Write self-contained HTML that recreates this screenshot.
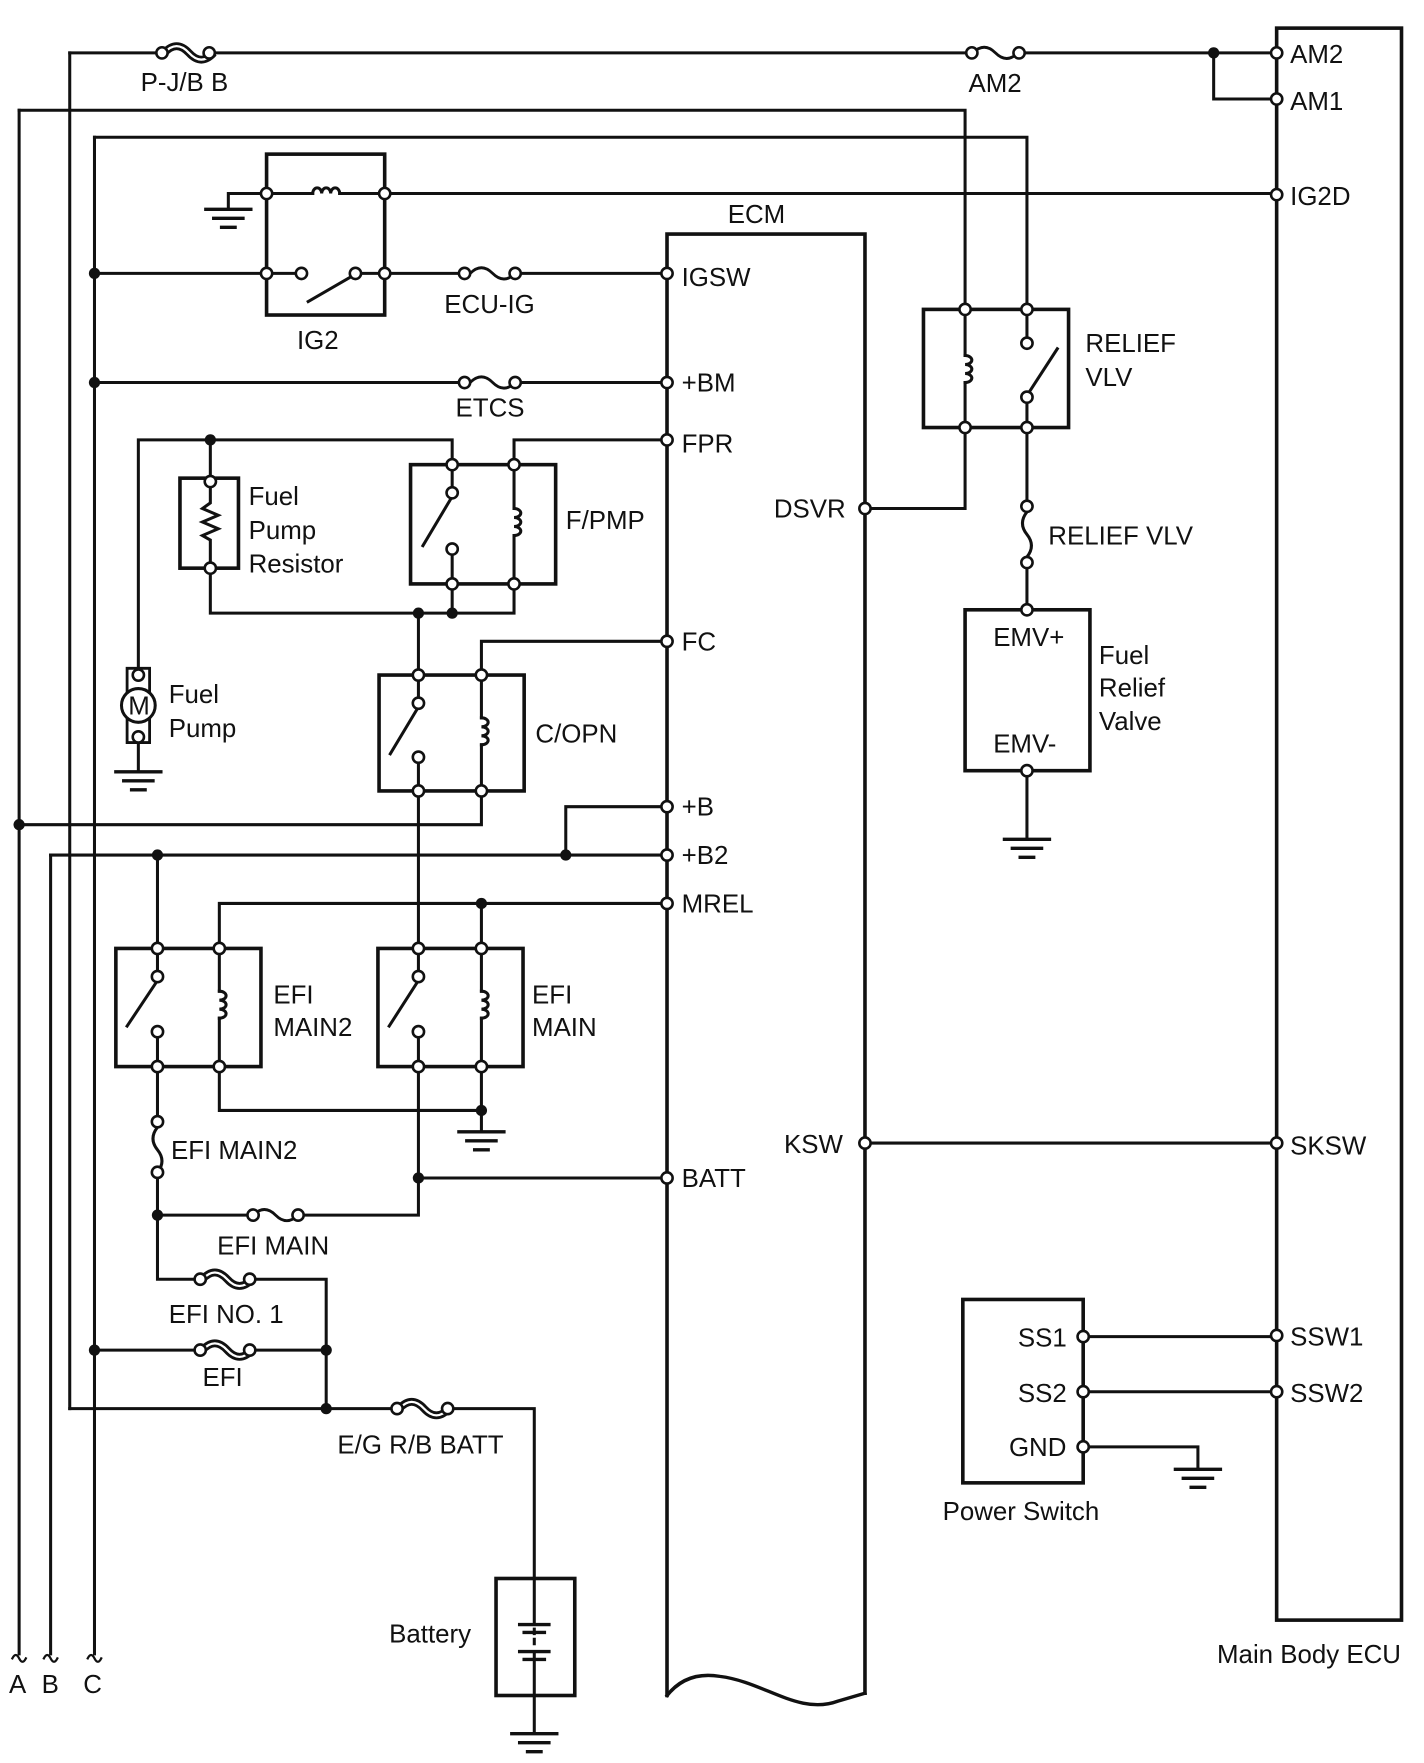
<!DOCTYPE html>
<html><head><meta charset="utf-8"><style>
html,body{margin:0;padding:0;background:#fff;}
svg{display:block;}
text{font-family:"Liberation Sans",Arial,sans-serif;font-size:23px;fill:#111;}
</style></head><body>
<svg width="1424" height="1763" viewBox="0 0 1266 1567" preserveAspectRatio="none" xmlns="http://www.w3.org/2000/svg">
<g fill="none" stroke="#111" stroke-width="2.7" stroke-linecap="square">
<!-- left trunk wires -->
<path d="M17 98 V1470 M45 760 V1470 M84 122 V1470 M62 47 V1252"/>
<path d="M11 1474 q3 -6 6 0 q3 6 6 0 M39 1474 q3 -6 6 0 q3 6 6 0 M78 1474 q3 -6 6 0 q3 6 6 0" stroke-width="2"/>
<!-- top wires -->
<path d="M62 47 H140 M190 47 H860 M910 47 H1129"/>
<path d="M1079 47 V88 H1129"/>
<path d="M17 98 H858 V270"/>
<path d="M84 122 H913 V270"/>
<!-- Main body ECU -->
<rect x="1135" y="25" width="111" height="1415" stroke-width="3.2"/>
<!-- IG2 relay -->
<rect x="237" y="137" width="105" height="143" stroke-width="3.2"/>
<path d="M237 172 H203 V185 M243 172 H278 M302 172 H336 M348 172 H1129"/>
<path d="M278 172 a4 5 0 0 1 8 0 a4 5 0 0 1 8 0 a4 5 0 0 1 8 0"/>
<path d="M84 243 H231 M243 243 H262 M322 243 H336 M348 243 H408 M458 243 H587"/>
<path d="M274 268 L312 246"/>
<path d="M84 340 H408 M458 340 H587"/>
<!-- ECM -->
<path d="M593 1507 V208 H769 V1505" stroke-width="3.2"/>
<path d="M593 1507 Q610 1485 640 1490 C680 1495 710 1525 745 1512 L769 1505" stroke-width="3"/>
<!-- FPR -->
<path d="M123 592 V391 H402 V407 M457 407 V391 H587"/>
<path d="M187 391 V422"/>
<rect x="160" y="425" width="52" height="80" stroke-width="3.2"/>
<path d="M187 434 V447 l-7 5 l14 6 l-14 6 l14 6 l-14 6 l7 4 V499"/>
<rect x="365" y="413" width="129" height="106" stroke-width="3.2"/>
<path d="M402 419 V432 M402 494 V513 M457 419 V452 M457 478 V513"/>
<path d="M376 485 L401 443"/>
<path d="M457 452 a6 4 0 0 1 0 8 a6 4 0 0 1 0 8 a6 4 0 0 1 0 8" />
<path d="M187 511 V545 H457 V525 M402 525 V545"/>
<!-- C/OPN -->
<path d="M372 545 V594"/>
<path d="M587 570 H428 V594"/>
<rect x="337" y="600" width="129" height="103" stroke-width="3.2"/>
<path d="M372 606 V619 M372 679 V697 M428 606 V638 M428 662 V697"/>
<path d="M347 670 L371 630"/>
<path d="M428 638 a6 4 0 0 1 0 8 a6 4 0 0 1 0 8 a6 4 0 0 1 0 8"/>
<path d="M428 709 V733 H17"/>
<path d="M372 709 V837"/>
<!-- fuel pump -->
<path d="M113 594 H133 V660 H113 Z" stroke-width="2.5"/>
<path d="M123 662 V685"/>
<!-- +B, +B2, MREL -->
<path d="M587 717 H503 V760 M587 760 H45 M140 760 V837"/>
<path d="M587 803 H195 V837 M428 803 V837"/>
<!-- EFI MAIN2 -->
<rect x="103" y="843" width="129" height="105" stroke-width="3.2"/>
<path d="M140 849 V862 M140 923 V942 M195 849 V881 M195 905 V942"/>
<path d="M113 912 L139 873"/>
<path d="M195 881 a6 4 0 0 1 0 8 a6 4 0 0 1 0 8 a6 4 0 0 1 0 8"/>
<!-- EFI MAIN -->
<rect x="336" y="843" width="129" height="105" stroke-width="3.2"/>
<path d="M372 849 V862 M372 923 V942 M428 849 V881 M428 905 V942"/>
<path d="M346 912 L371 873"/>
<path d="M428 881 a6 4 0 0 1 0 8 a6 4 0 0 1 0 8 a6 4 0 0 1 0 8"/>
<path d="M195 954 V987 H428 M428 954 V1005"/>
<path d="M372 954 V1080 H270 M220 1080 H140 M372 1047 H587"/>
<path d="M140 954 V991 M140 1047 V1137 H175 M225 1137 H290 V1252 M84 1200 H175 M225 1200 H290"/>
<path d="M140 1002 q-8 10 0 20 q8 10 0 20"/>
<path d="M62 1252 H350 M400 1252 H475 V1403"/>
<!-- battery -->
<rect x="441" y="1403" width="70" height="104" stroke-width="3.2"/>
<path d="M475 1403 V1443 M475 1448 V1452 M475 1457 V1461 M475 1468 V1507 V1540"/>
<path d="M462 1444 H488 M466 1451 H484 M462 1468 H488 M466 1475 H484" stroke-width="3"/>
<!-- grounds -->
<g stroke-width="3">
<path d="M183 186 H223 M190 194 H216 M197 202 H209"/>
<path d="M103 686 H143 M110 694 H136 M117 702 H129"/>
<path d="M408 1006 H448 M415 1014 H441 M422 1022 H434"/>
<path d="M455 1541 H495 M462 1549 H488 M469 1557 H481"/>
<path d="M893 746 H933 M900 754 H926 M907 762 H919"/>
<path d="M1045 1306 H1085 M1052 1314 H1078 M1059 1322 H1071"/>
</g>
<!-- relief relay -->
<rect x="821" y="275" width="129" height="105" stroke-width="3.2"/>
<path d="M858 281 V316 M858 340 V374 M913 281 V299 M913 359 V374"/>
<path d="M858 316 a6 4 0 0 1 0 8 a6 4 0 0 1 0 8 a6 4 0 0 1 0 8"/>
<path d="M914 350 L940 310"/>
<path d="M775 452 H858 V386"/>
<path d="M913 386 V450 M913 500 V542"/>
<path d="M913 455 q-8 10 0 20 q8 10 0 20"/>
<rect x="858" y="542" width="111" height="143" stroke-width="3.2"/>
<path d="M913 691 V746"/>
<!-- KSW -->
<path d="M775 1016 H1129"/>
<!-- power switch -->
<rect x="856" y="1155" width="107" height="163" stroke-width="3.2"/>
<path d="M969 1188 H1129 M969 1237 H1129 M969 1286 H1065 V1306"/>
</g>

<!-- fuses -->
<g fill="none" stroke="#111" stroke-width="2.5">
<!-- thin fuses -->
<path d="M418 243 q10 -10 20 0 q10 10 20 0"/>
<path d="M418 340 q10 -10 20 0 q10 10 20 0"/>
<path d="M865 47 q10 -10 20 0 q10 10 20 0"/>
<path d="M225 1080 q10 -10 20 0 q10 10 20 0"/>
</g>
<g fill="none" stroke="#111" stroke-width="7">
<path d="M146 47 q11 -12 22 0 q11 12 22 0"/>
<path d="M180 1137 q11 -12 22 0 q11 12 22 0"/>
<path d="M180 1200 q11 -12 22 0 q11 12 22 0"/>
<path d="M355 1252 q11 -12 22 0 q11 12 22 0"/>
</g>
<g fill="none" stroke="#fff" stroke-width="2">
<path d="M146 47 q11 -12 22 0 q11 12 22 0"/>
<path d="M180 1137 q11 -12 22 0 q11 12 22 0"/>
<path d="M180 1200 q11 -12 22 0 q11 12 22 0"/>
<path d="M355 1252 q11 -12 22 0 q11 12 22 0"/>
</g>

<!-- motor -->
<circle cx="123" cy="627" r="15" fill="#fff" stroke="#111" stroke-width="2.7"/>

<!-- open circles -->
<g fill="#fff" stroke="#111" stroke-width="2.3">
<circle cx="144" cy="47" r="5"/><circle cx="186" cy="47" r="5"/>
<circle cx="864" cy="47" r="5"/><circle cx="906" cy="47" r="5"/>
<circle cx="1135" cy="47" r="5"/><circle cx="1135" cy="88" r="5"/><circle cx="1135" cy="173" r="5"/>
<circle cx="1135" cy="1016" r="5"/><circle cx="1135" cy="1187" r="5"/><circle cx="1135" cy="1237" r="5"/>
<circle cx="237" cy="172" r="5"/><circle cx="342" cy="172" r="5"/>
<circle cx="237" cy="243" r="5"/><circle cx="342" cy="243" r="5"/>
<circle cx="268" cy="243" r="5"/><circle cx="316" cy="243" r="5"/>
<circle cx="413" cy="243" r="5"/><circle cx="458" cy="243" r="5"/>
<circle cx="413" cy="340" r="5"/><circle cx="458" cy="340" r="5"/>
<circle cx="593" cy="243" r="5"/><circle cx="593" cy="340" r="5"/><circle cx="593" cy="391" r="5"/>
<circle cx="593" cy="570" r="5"/><circle cx="593" cy="717" r="5"/><circle cx="593" cy="760" r="5"/>
<circle cx="593" cy="803" r="5"/><circle cx="593" cy="1047" r="5"/>
<circle cx="769" cy="452" r="5"/><circle cx="769" cy="1016" r="5"/>
<circle cx="187" cy="428" r="5"/><circle cx="187" cy="505" r="5"/>
<circle cx="402" cy="413" r="5"/><circle cx="457" cy="413" r="5"/><circle cx="402" cy="519" r="5"/><circle cx="457" cy="519" r="5"/>
<circle cx="402" cy="438" r="5"/><circle cx="402" cy="488" r="5"/>
<circle cx="372" cy="600" r="5"/><circle cx="428" cy="600" r="5"/><circle cx="372" cy="703" r="5"/><circle cx="428" cy="703" r="5"/>
<circle cx="372" cy="625" r="5"/><circle cx="372" cy="673" r="5"/>
<circle cx="123" cy="600" r="5"/><circle cx="123" cy="655" r="5"/>
<circle cx="140" cy="843" r="5"/><circle cx="195" cy="843" r="5"/><circle cx="140" cy="948" r="5"/><circle cx="195" cy="948" r="5"/>
<circle cx="140" cy="868" r="5"/><circle cx="140" cy="917" r="5"/>
<circle cx="372" cy="843" r="5"/><circle cx="428" cy="843" r="5"/><circle cx="372" cy="948" r="5"/><circle cx="428" cy="948" r="5"/>
<circle cx="372" cy="868" r="5"/><circle cx="372" cy="917" r="5"/>
<circle cx="140" cy="997" r="5"/><circle cx="140" cy="1042" r="5"/>
<circle cx="225" cy="1080" r="5"/><circle cx="265" cy="1080" r="5"/>
<circle cx="178" cy="1137" r="5"/><circle cx="222" cy="1137" r="5"/>
<circle cx="178" cy="1200" r="5"/><circle cx="222" cy="1200" r="5"/>
<circle cx="353" cy="1252" r="5"/><circle cx="398" cy="1252" r="5"/>
<circle cx="858" cy="275" r="5"/><circle cx="913" cy="275" r="5"/><circle cx="858" cy="380" r="5"/><circle cx="913" cy="380" r="5"/>
<circle cx="913" cy="305" r="5"/><circle cx="913" cy="353" r="5"/>
<circle cx="913" cy="450" r="5"/><circle cx="913" cy="500" r="5"/>
<circle cx="913" cy="542" r="5"/><circle cx="913" cy="685" r="5"/>
<circle cx="963" cy="1188" r="5"/><circle cx="963" cy="1237" r="5"/><circle cx="963" cy="1286" r="5"/>
</g>
<!-- junction dots -->
<g fill="#111">
<circle cx="1079" cy="47" r="5"/><circle cx="84" cy="243" r="5"/><circle cx="84" cy="340" r="5"/>
<circle cx="187" cy="391" r="5"/><circle cx="372" cy="545" r="5"/><circle cx="402" cy="545" r="5"/>
<circle cx="17" cy="733" r="5"/><circle cx="503" cy="760" r="5"/><circle cx="140" cy="760" r="5"/>
<circle cx="428" cy="803" r="5"/><circle cx="428" cy="987" r="5"/><circle cx="372" cy="1047" r="5"/>
<circle cx="140" cy="1080" r="5"/><circle cx="84" cy="1200" r="5"/><circle cx="290" cy="1200" r="5"/>
<circle cx="290" cy="1252" r="5"/>
</g>

<!-- labels -->
<text x="125" y="81">P-J/B B</text>
<text x="861" y="82">AM2</text>
<text x="1147" y="56">AM2</text>
<text x="1147" y="98">AM1</text>
<text x="1147" y="182">IG2D</text>
<text x="647" y="198">ECM</text>
<text x="264" y="310">IG2</text>
<text x="395" y="278">ECU-IG</text>
<text x="405" y="370">ETCS</text>
<text x="606" y="254">IGSW</text>
<text x="606" y="348">+BM</text>
<text x="606" y="402">FPR</text>
<text x="606" y="578">FC</text>
<text x="606" y="725">+B</text>
<text x="606" y="768">+B2</text>
<text x="606" y="811">MREL</text>
<text x="606" y="1055">BATT</text>
<text x="688" y="460">DSVR</text>
<text x="697" y="1025">KSW</text>
<text x="221" y="449">Fuel</text>
<text x="221" y="479">Pump</text>
<text x="221" y="509">Resistor</text>
<text x="503" y="470">F/PMP</text>
<text x="476" y="660">C/OPN</text>
<text x="150" y="625">Fuel</text>
<text x="150" y="655">Pump</text>
<text x="114" y="635" font-size="20">M</text>
<text x="243" y="892">EFI</text>
<text x="243" y="921">MAIN2</text>
<text x="473" y="892">EFI</text>
<text x="473" y="921">MAIN</text>
<text x="152" y="1030">EFI MAIN2</text>
<text x="193" y="1115">EFI MAIN</text>
<text x="150" y="1176">EFI NO. 1</text>
<text x="180" y="1232">EFI</text>
<text x="300" y="1292">E/G R/B BATT</text>
<text x="346" y="1460">Battery</text>
<text x="965" y="313">RELIEF</text>
<text x="965" y="343">VLV</text>
<text x="932" y="484">RELIEF VLV</text>
<text x="883" y="574">EMV+</text>
<text x="883" y="669">EMV-</text>
<text x="977" y="590">Fuel</text>
<text x="977" y="619">Relief</text>
<text x="977" y="649">Valve</text>
<text x="1147" y="1026">SKSW</text>
<text x="905" y="1197">SS1</text>
<text x="905" y="1246">SS2</text>
<text x="897" y="1294">GND</text>
<text x="1147" y="1196">SSW1</text>
<text x="1147" y="1246">SSW2</text>
<text x="838" y="1351">Power Switch</text>
<text x="1082" y="1478">Main Body ECU</text>
<text x="8" y="1505">A</text>
<text x="37" y="1505">B</text>
<text x="74" y="1505">C</text>
</g>
</svg>
</body></html>
